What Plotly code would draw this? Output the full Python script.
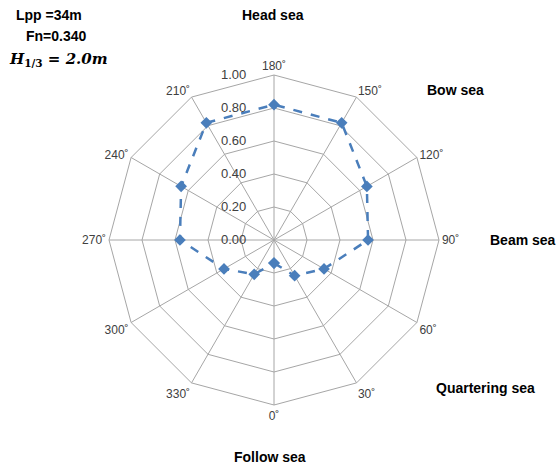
import plotly.graph_objects as go

angles = [0, 30, 60, 90, 120, 150, 180, 210, 240, 270, 300, 330]
values = [0.14, 0.25, 0.35, 0.57, 0.65, 0.82, 0.82, 0.82, 0.65, 0.57, 0.35, 0.24]
angle_labels = ["0˚", "30˚", "60˚", "90˚", "120˚", "150˚", "180˚", "210˚", "240˚", "270˚", "300˚", "330˚"]
radial_ticks = [0, 0.2, 0.4, 0.6, 0.8, 1.0]
radial_labels = ["0.00", "0.20", "0.40", "0.60", "0.80", "1.00"]

label_of = dict(zip(angles, angle_labels))
theta = [label_of[a] for a in angles]
pad = "\u00a0" * 7

fig = go.Figure()
fig.add_trace(go.Scatterpolar(
    r=values + values[:1], theta=theta + theta[:1],
    mode="lines+markers",
    line=dict(color="#4A7EBB", width=2.5, dash="dash"),
    marker=dict(symbol="diamond", size=9, color="#4A7EBB"),
    showlegend=False,
))

W, H = 559, 467
cx, cy, R = 274, 240, 165
fig.update_layout(
    width=W, height=H,
    margin=dict(l=0, r=0, t=0, b=0),
    paper_bgcolor="white",
    font=dict(family="Liberation Sans", color="#404040"),
    polar=dict(
        domain=dict(x=[(cx - R) / W, (cx + R) / W], y=[(H - cy - R) / H, (H - cy + R) / H]),
        bgcolor="white",
        gridshape="linear",
        angularaxis=dict(
            type="category", categoryorder="array", categoryarray=theta,
            rotation=270, direction="counterclockwise",
            showgrid=True, gridcolor="#A6A6A6", gridwidth=1,
            showline=True, linecolor="#A6A6A6", linewidth=1,
            ticks="", tickfont=dict(size=12, color="#404040"),
        ),
        radialaxis=dict(
            range=[0, 1], angle=90, tickangle=90,
            side="counterclockwise",
            tickmode="array", tickvals=radial_ticks,
            ticktext=[t + pad for t in radial_labels],
            showgrid=True, gridcolor="#A6A6A6", gridwidth=1,
            showline=False, ticks="",
            tickfont=dict(size=13, color="#404040"),
        ),
    ),
)

bold = dict(family="Liberation Sans", size=14, color="black")
annots = [
    ("<b>Head sea</b>", 273, 15),
    ("<b>Bow sea</b>", 455, 90),
    ("<b>Beam sea</b>", 523, 240),
    ("<b>Quartering sea</b>", 485, 388),
    ("<b>Follow sea</b>", 270, 457),
    ("<b>Lpp =34m</b>", 49, 15),
    ("<b>Fn=0.340</b>", 56, 36),
]
for text, x, y in annots:
    fig.add_annotation(text=text, x=x / W, y=1 - y / H, xref="paper", yref="paper",
                       showarrow=False, font=bold, xanchor="center", yanchor="middle")
fig.add_annotation(text="<b><i>H</i></b><sub><b>1/3</b></sub><b><i> = 2.0m</i></b>",
                   x=58 / W, y=1 - 59 / H, xref="paper", yref="paper", showarrow=False,
                   font=dict(family="DejaVu Serif", size=15, color="black"),
                   xanchor="center", yanchor="middle")

fig.write_html("out.html")
